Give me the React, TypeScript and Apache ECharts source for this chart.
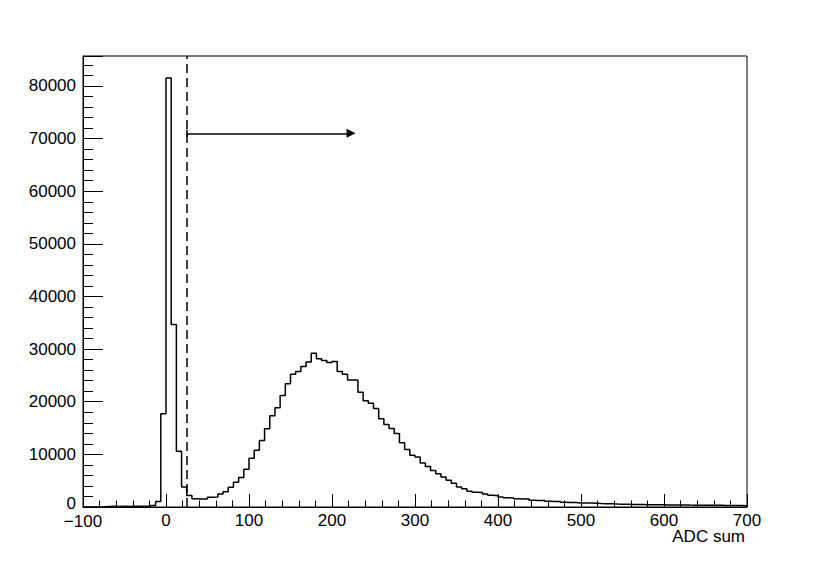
import React, { useEffect, useRef } from "react";
import * as echarts from "echarts";

// Histogram definition: 128 bins of width 6.25 from -100 to 700
const binLow = -100;
const binWidth = 6.25;
const binCounts = [
  // -100 .. -81.25
  0, 0, 0, 0,
  // -75 .. -25
  110, 120, 100, 130, 110, 140, 120, 150, 160,
  // -18.75 .. -6.25
  300, 1050, 17700,
  // 0 ..
  81500, 34700, 10600, 3800, 2200, 1570, 1520, 1520, 1850, 1900,
  2450, 2900, 3750, 4700, 5620, 7150, 9250, 10800, 12640, 14860,
  17320, 18850, 21200, 23420, 25230, 25730, 26680, 27540, 29220, 28150,
  27820, 27480, 27630, 25730, 25230, 24150, 24150, 21820, 20200, 19730,
  18720, 16750, 15700, 14900, 13950, 12200, 10950, 9850, 9500, 8350,
  7700, 6950, 6320, 5690, 5100, 4500, 3800, 3450, 3000, 2800,
  2750, 2470, 2230, 2150, 1900, 1750, 1700, 1560, 1520, 1500,
  1300, 1250, 1230, 1080, 1050, 1040, 900, 870, 860, 780,
  760, 740, 700, 650, 640, 620, 560, 540, 520, 480,
  470, 460, 450, 440, 440, 420, 400, 390, 380, 380,
  360, 350, 340, 330, 320, 310, 310, 300, 290, 280, 270, 260,
];

const xMin = -100;
const xMax = 700;
const yMax = 85700;
const cutValue = 25;
const arrowY = 71000;
const arrowEnd = 223;
const xTitle = "ADC sum";

const FONT = "'Liberation Sans', Arial, Helvetica, sans-serif";

export default function App() {
  const ref = useRef<HTMLDivElement>(null);
  useEffect(() => {
    if (!ref.current) return;
    const chart = echarts.init(ref.current, null, { renderer: "svg" });
    const histData: number[][] = binCounts.map((c, i) => [binLow + binWidth * i, c]);
    histData.push([binLow + binWidth * binCounts.length, binCounts[binCounts.length - 1]]);

    const fmtX = (v: number) => {
      if (v === xMin) return "{m|\u2212" + Math.abs(v) + "}";
      return v < 0 ? "\u2212" + Math.abs(v) : String(v);
    };
    const fmtY = (v: number) => {
      if (v % 10000 !== 0) return "";
      if (v === 0) return "{z|0}";
      return String(v);
    };

    chart.setOption({
      animation: false,
      backgroundColor: "#fff",
      grid: {
        left: 83,
        right: 83,
        top: 56,
        bottom: 57,
        show: true,
        borderColor: "#000",
        borderWidth: 1,
        backgroundColor: "#fff",
      },
      xAxis: {
        type: "value",
        min: xMin,
        max: xMax,
        interval: 100,
        axisLine: { show: true, onZero: false, lineStyle: { color: "#000", width: 1 } },
        axisTick: { show: true, inside: true, length: 13, lineStyle: { color: "#000", width: 1 } },
        minorTick: { show: true, splitNumber: 5, length: 6.5, lineStyle: { color: "#000", width: 1 } },
        splitLine: { show: false },
        axisLabel: {
          formatter: fmtX,
          color: "#000",
          fontSize: 17,
          lineHeight: 13,
          fontFamily: FONT,
          margin: 7,
          showMinLabel: true,
          showMaxLabel: true,
          rich: {
            m: {
              color: "#000",
              fontSize: 17,
              lineHeight: 13,
              fontFamily: FONT,
              padding: [2, 0, 0, 0],
            },
          },
        },
      },
      yAxis: [
        {
          type: "value",
          min: 0,
          max: yMax,
          interval: 10000,
          position: "left",
          axisLine: { show: true, onZero: false, lineStyle: { color: "#000", width: 1 } },
          axisTick: { show: true, inside: true, length: 20, lineStyle: { color: "#000", width: 1 } },
          splitLine: { show: false },
          axisLabel: {
            formatter: fmtY,
            color: "#000",
            fontSize: 17,
            lineHeight: 13,
            fontFamily: FONT,
            margin: 7,
            rich: {
              z: {
                color: "#000",
                fontSize: 17,
                lineHeight: 13,
                fontFamily: FONT,
                padding: [0, 0, 8, 0],
              },
            },
          },
        },
        {
          type: "value",
          min: 0,
          max: yMax,
          interval: 2000,
          position: "left",
          offset: 0,
          axisLine: { show: false, onZero: false },
          axisTick: { show: true, inside: true, length: 10, lineStyle: { color: "#000", width: 1 } },
          splitLine: { show: false },
          axisLabel: { show: false },
        },
      ],
      series: [
        {
          type: "line",
          step: "end",
          data: histData,
          yAxisIndex: 0,
          symbol: "none",
          lineStyle: { color: "#000", width: 1.5 },
          markLine: {
            silent: true,
            animation: false,
            symbol: ["none", "none"],
            label: { show: false },
            emphasis: { disabled: true },
            data: [
              {
                xAxis: cutValue,
                lineStyle: { color: "#000", width: 1.5, type: [9, 5] },
              },
              [
                { coord: [cutValue, arrowY], symbol: "none", lineStyle: { color: "#000", width: 1.5, type: "solid" } },
                { coord: [arrowEnd, arrowY], symbol: "triangle", symbolSize: 9 },
              ],
              [
                { coord: [cutValue, 70300], symbol: "none", lineStyle: { color: "#000", width: 1.5, type: "solid" } },
                { coord: [cutValue, 71700], symbol: "none" },
              ],
            ],
          },
        },
      ],
      graphic: [
        {
          type: "text",
          right: 85,
          top: 528,
          style: { text: xTitle, fill: "#000", font: `17px ${FONT}` },
        },
      ],
    });
    return () => chart.dispose();
  }, []);
  return (
    <div
      ref={ref}
      style={{ position: "absolute", left: 0, top: 0, width: 830, height: 564, background: "#fff" }}
    />
  );
}
